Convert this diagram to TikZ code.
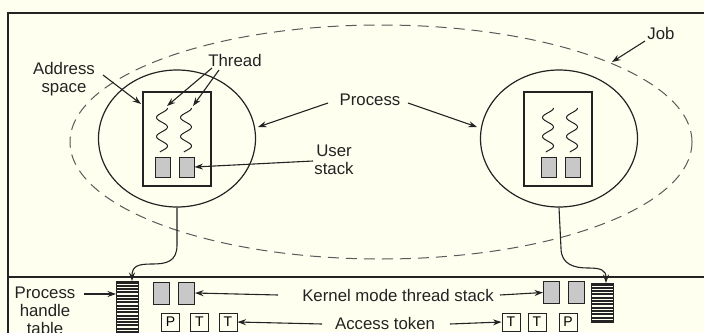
\documentclass[tikz,border=0pt]{standalone}
\usepackage{fontspec}
\setmainfont{Liberation Sans}
\usetikzlibrary{arrows.meta,shapes.geometric}
\definecolor{bg}{RGB}{255,255,240}
\definecolor{ln}{RGB}{35,35,35}
\definecolor{stk}{RGB}{200,200,200}
\definecolor{dsh}{RGB}{90,90,90}
\begin{document}
\begin{tikzpicture}[x=1pt,y=-1pt,
  font=\fontsize{16.8}{18}\selectfont,
  arr/.style={-{Stealth[length=8.5pt,width=6pt]}, line width=1.1pt, draw=ln},
  frame/.style={line width=1.4pt, draw=ln},
  proc/.style={ellipse, draw=ln, line width=1.2pt, minimum width=157pt, minimum height=137pt, inner sep=0pt},
  jobell/.style={ellipse, draw=dsh, line width=1pt, dash pattern=on 11pt off 7pt, minimum width=622pt, minimum height=234pt, inner sep=0pt},
  aspace/.style={rectangle, draw=ln, line width=1.2pt, minimum width=68pt, minimum height=94pt, inner sep=0pt},
  ustk/.style={rectangle, draw=ln, fill=stk, line width=1pt, minimum width=15pt, minimum height=20pt, inner sep=0pt},
  kstk/.style={rectangle, draw=ln, fill=stk, line width=1pt, minimum width=16pt, minimum height=22pt, inner sep=0pt},
  tok/.style={rectangle, draw=ln, line width=1pt, minimum width=18pt, minimum height=18pt, inner sep=0pt, font=\fontsize{14}{14}\selectfont},
  lbl/.style={align=center, inner sep=1pt, text=ln},
  wave/.style={line width=1pt, draw=ln}
]
\fill[bg] (0,0) rectangle (704,332);
\useasboundingbox (0,0) rectangle (704,332);
% frame
\draw[frame] (710,13) -- (8,13) -- (8,340);
\draw[frame] (8,277) -- (710,277);

% job
\node[jobell] (job) at (381,142) {};
% processes
\node[proc] (lp) at (177,138.5) {};
\node[proc] (rp) at (559,138.5) {};
\node[aspace] (la) at (177,139) {};
\node[aspace] (ra) at (558,139) {};
% user stacks
\node[ustk] (lu1) at (162.5,167) {};
\node[ustk] (lu2) at (186.5,167) {};
\node[ustk] (ru1) at (549,167) {};
\node[ustk] (ru2) at (573,167) {};
% threads
\foreach \cx in {162,186,548,572}{
  \draw[wave] plot[domain=0:44, smooth, samples=60] ({\cx+5.5*sin(90+\x*360/19)}, {108+\x});
}

% labels
\node[lbl] (asl) at (64,79) {Address\\space};
\node[lbl] (thr) at (235,60) {Thread};
\node[lbl] (prl) at (370,100) {Process};
\node[lbl] (usl) at (334,160) {User\\stack};
\node[lbl] (jobl) at (661,33) {Job};

\coordinate (a1) at (103,75);   \coordinate (a1e) at (141,104);
\coordinate (t1) at (212,68);   \coordinate (t1e) at (167,106);
\coordinate (t2) at (219,70);   \coordinate (t2e) at (193,106);
\coordinate (p1) at (328,103);  \coordinate (p1e) at (258,127);
\coordinate (p2) at (408,103);  \coordinate (p2e) at (477,127);
\coordinate (u1) at (313,161);
\coordinate (j1) at (645,41);   \coordinate (j1e) at (612,62);
\draw[arr] (a1) -- (a1e);
\draw[arr] (t1) -- (t1e);
\draw[arr] (t2) -- (t2e);
\draw[arr] (p1) -- (p1e);
\draw[arr] (p2) -- (p2e);
\draw[arr] (u1) -- (lu2.east);
\draw[arr] (j1) -- (j1e);

% handle tables
\draw[line width=1pt, draw=ln] (116,281) rectangle (138,340);
\foreach \k in {0,...,17}{ \draw[line width=2pt, draw=ln] (116,282.5+\k*3.3) -- (138,282.5+\k*3.3); }
\draw[line width=1pt, draw=ln] (591,283) rectangle (613,322);
\foreach \k in {0,...,11}{ \draw[line width=2pt, draw=ln] (591,284.5+\k*3.3) -- (613,284.5+\k*3.3); }
\coordinate (lht) at (132,281);
\coordinate (rht) at (606,283);

% connectors to tables
\draw[arr] (lp.south) -- (177,245) .. controls (177,262) and (166,264) .. (152,264) .. controls (138,264) and (132,266) .. (lht);
\draw[arr] (rp.south) -- (561,248) .. controls (561,265) and (575,268) .. (588,268) .. controls (601,268) and (606,270) .. (rht);

% kernel stacks
\node[kstk] (lk1) at (161.5,293) {};
\node[kstk] (lk2) at (186.5,293) {};
\node[kstk] (rk1) at (551.5,292.5) {};
\node[kstk] (rk2) at (576.5,292.5) {};

% tokens
\node[tok] (lt1) at (170.5,322) {P};
\node[tok] (lt2) at (199.5,322) {T};
\node[tok] (lt3) at (228,322) {T};
\node[tok] (rt1) at (511,322) {T};
\node[tok] (rt2) at (537,322) {T};
\node[tok] (rt3) at (568,322) {P};

% bottom labels
\node[lbl] (pht) at (45,311) {Process\\handle\\table};
\node[lbl] (kml) at (398,295) {Kernel mode thread stack};
\node[lbl] (atl) at (385,323) {Access token};
\coordinate (h1) at (84,294);
\coordinate (k1) at (278,295);
\coordinate (k2) at (500,295);
\coordinate (c1) at (322,324);
\coordinate (c2) at (450,324);
\draw[arr] (h1) -- (116,294);
\draw[arr] (k1) -- (lk2.east);
\draw[arr] (k2) -- (rk1.west);
\draw[arr] (c1) -- (lt3.east);
\draw[arr] (c2) -- (rt1.west);
\end{tikzpicture}
\end{document}
